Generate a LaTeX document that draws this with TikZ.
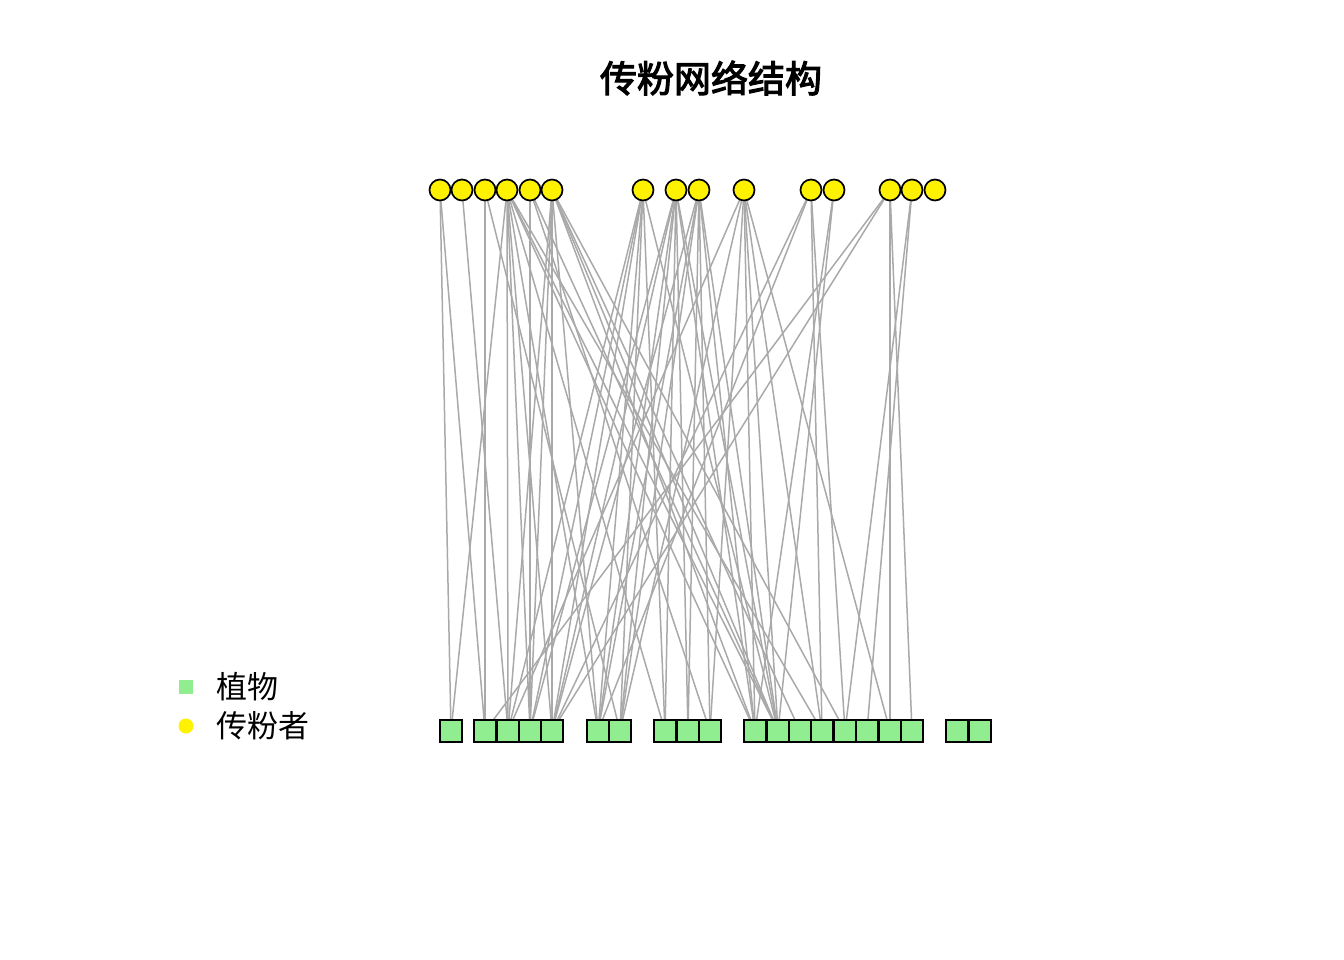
\documentclass[tikz,border=0pt]{standalone}
\usepackage{fontspec}
\newfontfamily\cjk{Noto Sans CJK SC}
\newfontfamily\cjkb[FakeBold=3]{Noto Sans CJK SC}
\pgfdeclarelayer{bg}
\pgfsetlayers{bg,main}
\definecolor{lgreen}{HTML}{90EE90}
\definecolor{edgegray}{HTML}{A9A9A9}
\begin{document}
\begin{tikzpicture}[x=1pt,y=-1pt,
  poll/.style={circle,draw=black,line width=1.7pt,fill=yellow,minimum size=21pt,inner sep=0pt},
  plant/.style={rectangle,draw=black,line width=1.7pt,fill=lgreen,minimum size=21.5pt,inner sep=0pt},
  edge/.style={draw=edgegray,line width=1.5pt}]
\useasboundingbox (0,0) rectangle (1344,960);
\node[font=\cjkb\fontsize{37}{42}\selectfont] (title) at (711,78) {传粉网络结构};
% pollinators
\foreach \n/\x in {a1/440,a2/462,a3/485,a4/507,a5/530,a6/552,b1/643,b2/676,b3/699,c1/744,d1/811,d2/834,e1/890,e2/912,e3/935}
  \node[poll] (\n) at (\x,190) {};
% plants
\foreach \n/\x in {p1/451,p2/485,p3/508,p4/530,p5/552,p6/598,p7/620,p8/665,p9/688,p10/710,p11/755,p12/778,p13/800,p14/822,p15/845,p16/867,p17/890,p18/912,p19/957,p20/980}
  \node[plant] (\n) at (\x,731) {};
\begin{pgfonlayer}{bg}
\foreach \a/\b in {a1/p1,a1/p2,a2/p3,a3/p2,a3/p7,
  a4/p1,a4/p3,a4/p4,a4/p5,a4/p6,a4/p8,a4/p11,a4/p12,a4/p14,
  a5/p4,a5/p10,a5/p12,
  a6/p3,a6/p4,a6/p5,a6/p6,a6/p11,a6/p12,a6/p13,a6/p15,
  b1/p3,b1/p4,b1/p5,b1/p6,b1/p7,b1/p8,b1/p12,
  b2/p4,b2/p5,b2/p6,b2/p7,b2/p8,b2/p9,b2/p11,b2/p12,
  b3/p5,b3/p6,b3/p7,b3/p9,b3/p10,b3/p11,b3/p12,
  c1/p3,c1/p7,c1/p10,c1/p11,c1/p12,c1/p14,c1/p17,
  d1/p5,d1/p6,d1/p14,d1/p15,
  d2/p11,d2/p12,
  e1/p2,e1/p5,e1/p17,e1/p18,
  e2/p15,e2/p16}
  \draw[edge] (\a) -- (\b);
\end{pgfonlayer}
% legend
\node[rectangle,fill=lgreen,minimum size=14pt,inner sep=0pt] (lg1) at (186,687) {};
\node[circle,fill=yellow,minimum size=15pt,inner sep=0pt] (lg2) at (186,726) {};
\node[font=\cjk\fontsize{31}{36}\selectfont,anchor=west] (lt1) at (213,687) {植物};
\node[font=\cjk\fontsize{31}{36}\selectfont,anchor=west] (lt2) at (213,726) {传粉者};
\end{tikzpicture}
\end{document}
